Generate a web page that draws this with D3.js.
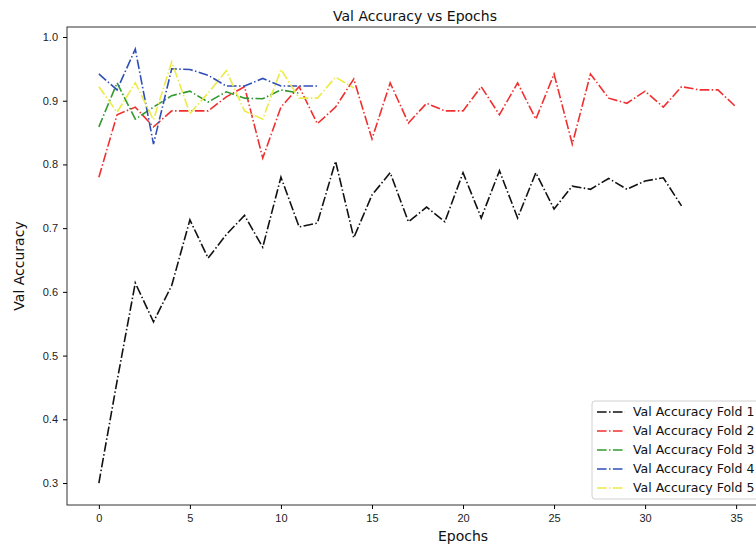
<!DOCTYPE html>
<html>
<head>
<meta charset="utf-8">
<script src="https://cdn.jsdelivr.net/npm/d3@7"></script>
<style>
  body { margin: 0; background: #fff; }
  svg { display: block; font-family: "DejaVu Sans", sans-serif; }
</style>
</head>
<body>
<div id="chart"></div>
<script>
const fold1 = [0.30, 0.46, 0.614, 0.553, 0.61, 0.713, 0.653, 0.69, 0.72, 0.67, 0.78, 0.702, 0.708, 0.805, 0.685, 0.752, 0.787, 0.71, 0.733, 0.71, 0.787, 0.716, 0.79, 0.716, 0.787, 0.73, 0.766, 0.761, 0.778, 0.761, 0.774, 0.779, 0.735];
const fold2 = [0.78, 0.878, 0.89, 0.859, 0.884, 0.884, 0.884, 0.906, 0.922, 0.81, 0.89, 0.922, 0.864, 0.89, 0.934, 0.84, 0.928, 0.865, 0.896, 0.884, 0.884, 0.922, 0.878, 0.928, 0.871, 0.942, 0.832, 0.942, 0.904, 0.896, 0.915, 0.89, 0.922, 0.917, 0.917, 0.89];
const fold3 = [0.859, 0.928, 0.871, 0.89, 0.908, 0.915, 0.898, 0.914, 0.904, 0.903, 0.917, 0.912];
const fold4 = [0.942, 0.917, 0.981, 0.832, 0.95, 0.949, 0.94, 0.923, 0.923, 0.935, 0.923, 0.923, 0.923];
const fold5 = [0.922, 0.882, 0.928, 0.87, 0.961, 0.88, 0.912, 0.947, 0.884, 0.871, 0.949, 0.904, 0.904, 0.937, 0.92];

const seriesNames = ["Val Accuracy Fold 1", "Val Accuracy Fold 2", "Val Accuracy Fold 3", "Val Accuracy Fold 4", "Val Accuracy Fold 5"];
const seriesColors = ["#111111", "#f03030", "#2f9a2f", "#2f4fb8", "#ecea44"];
const xTicks = [0, 5, 10, 15, 20, 25, 30, 35];
const yTicks = [0.3, 0.4, 0.5, 0.6, 0.7, 0.8, 0.9, 1.0];

const width = 756;
const height = 545;
const margin = { top: 27, left: 67 };
const innerWidth = 701;   // right spine sits past the window edge
const innerHeight = 478;

const svg = d3.select("#chart")
    .append("svg")
    .attr("width", width)
    .attr("height", height);

const chart = svg.append("g")
    .attr("transform", `translate(${margin.left}, ${margin.top})`);

const xScale = d3.scaleLinear()
    .domain([-1.75, 36.75])
    .range([0, innerWidth]);

const yScale = d3.scaleLinear()
    .domain([0.2655, 1.0157])
    .range([innerHeight, 0]);

const xAxis = d3.axisBottom(xScale)
    .tickValues(xTicks)
    .tickFormat(d3.format("d"))
    .tickSize(4)
    .tickPadding(5);

const yAxis = d3.axisLeft(yScale)
    .tickValues(yTicks)
    .tickFormat(d3.format(".1f"))
    .tickSize(4)
    .tickPadding(5);

// lines
const allSeries = [fold1, fold2, fold3, fold4, fold5];
const line = d3.line()
    .x((d, i) => xScale(i))
    .y(d => yScale(d));

chart.selectAll(".fold")
    .data(allSeries)
    .enter()
    .append("path")
    .attr("class", "fold")
    .attr("d", line)
    .attr("fill", "none")
    .attr("stroke", (d, i) => seriesColors[i])
    .attr("stroke-width", 1.6)
    .attr("stroke-dasharray", "9.6,2.4,1.5,2.4");

// frame
chart.append("rect")
    .attr("width", innerWidth)
    .attr("height", innerHeight)
    .attr("fill", "none")
    .attr("stroke", "#333")
    .attr("stroke-width", 1);

chart.append("g")
    .attr("transform", `translate(0, ${innerHeight})`)
    .call(xAxis)
    .call(g => g.select(".domain").remove())
    .call(g => g.selectAll("text").attr("font-size", 11).attr("fill", "#222"));

chart.append("g")
    .call(yAxis)
    .call(g => g.select(".domain").remove())
    .call(g => g.selectAll("text").attr("font-size", 11).attr("fill", "#222"));

svg.append("text")
    .attr("x", 415)
    .attr("y", 21)
    .attr("text-anchor", "middle")
    .attr("font-size", 14)
    .attr("fill", "#111")
    .text("Val Accuracy vs Epochs");

svg.append("text")
    .attr("x", xScale(20) + margin.left)
    .attr("y", 541)
    .attr("text-anchor", "middle")
    .attr("font-size", 14)
    .attr("fill", "#111")
    .text("Epochs");

svg.append("text")
    .attr("transform", `translate(24, ${margin.top + innerHeight / 2}) rotate(-90)`)
    .attr("text-anchor", "middle")
    .attr("font-size", 14)
    .attr("fill", "#111")
    .text("Val Accuracy");

// legend
const legend = svg.append("g")
    .attr("transform", "translate(592, 401)");

legend.append("rect")
    .attr("width", 175)
    .attr("height", 98)
    .attr("rx", 3)
    .attr("fill", "#fff")
    .attr("stroke", "#d0d0d0");

const items = legend.selectAll(".legend")
    .data(seriesNames)
    .enter()
    .append("g")
    .attr("class", "legend")
    .attr("transform", (d, i) => `translate(0, ${11 + i * 19})`);

items.append("line")
    .attr("x1", 5)
    .attr("x2", 33)
    .attr("stroke", (d, i) => seriesColors[i])
    .attr("stroke-width", 1.6)
    .attr("stroke-dasharray", "9.6,2.4,1.5,2.4");

items.append("text")
    .attr("x", 41)
    .attr("dy", "0.35em")
    .attr("font-size", 12.5)
    .attr("fill", "#111")
    .text(d => d);
</script>
</body>
</html>
